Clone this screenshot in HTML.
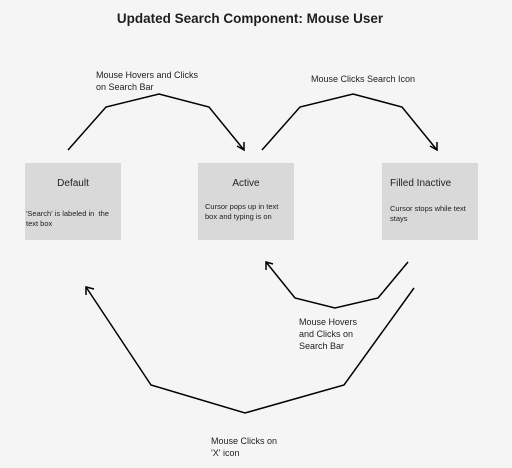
<!DOCTYPE html>
<html><head><style>
body{margin:0;width:512px;height:468px;background:#f5f5f5;font-family:"Liberation Sans",sans-serif;position:relative;overflow:hidden;color:#1e1e1e}
.t{position:absolute;font-size:9px;line-height:12px;white-space:nowrap}
.b{position:absolute;background:#d9d9d9;width:96px;height:77px;top:163px}
</style></head><body>
<div class="t" style="left:0;width:500px;text-align:center;top:11px;font-size:13.5px;font-weight:bold;line-height:16px">Updated Search Component: Mouse User</div>
<div class="b" style="left:25px"></div>
<div class="b" style="left:198px"></div>
<div class="b" style="left:382px"></div>
<div class="t" style="left:25px;width:96px;text-align:center;top:178px;font-size:10px">Default</div>
<div class="t" style="left:198px;width:96px;text-align:center;top:178px;font-size:10px">Active</div>
<div class="t" style="left:390px;top:178px;font-size:10px">Filled Inactive</div>
<div class="t" style="left:26px;top:209px;font-size:7.5px;line-height:9.5px">'Search' is labeled in&nbsp; the<br>text box</div>
<div class="t" style="left:205px;top:202px;font-size:7.5px;line-height:9.5px">Cursor pops up in text<br>box and typing is on</div>
<div class="t" style="left:390px;top:204px;font-size:7.5px;line-height:9.5px">Cursor stops while text<br>stays</div>
<div class="t" style="left:96px;top:69px">Mouse Hovers and Clicks<br>on Search Bar</div>
<div class="t" style="left:311px;top:73px">Mouse Clicks Search Icon</div>
<div class="t" style="left:299px;top:316px">Mouse Hovers<br>and Clicks on<br>Search Bar</div>
<div class="t" style="left:211px;top:435px">Mouse Clicks on<br>'X' icon</div>
<svg width="512" height="468" style="position:absolute;left:0;top:0" fill="none" stroke="#000" stroke-width="1.5">
<polyline points="68,150 106,107 159,94 209,107 244,150"/>
<polyline points="237,146 244,150 244,142"/>
<polyline points="262,150 300,107 353,94 402,107 437,150"/>
<polyline points="430,146 437,150 437,142"/>
<polyline points="408,262 378,298 335,308 295,298 266,262"/>
<polyline points="266,270 266,262 273,264"/>
<polyline points="414,288 344,385 245,413 151,385 86,287"/>
<polyline points="86,295 86,287 94,289"/>
</svg>
</body></html>
